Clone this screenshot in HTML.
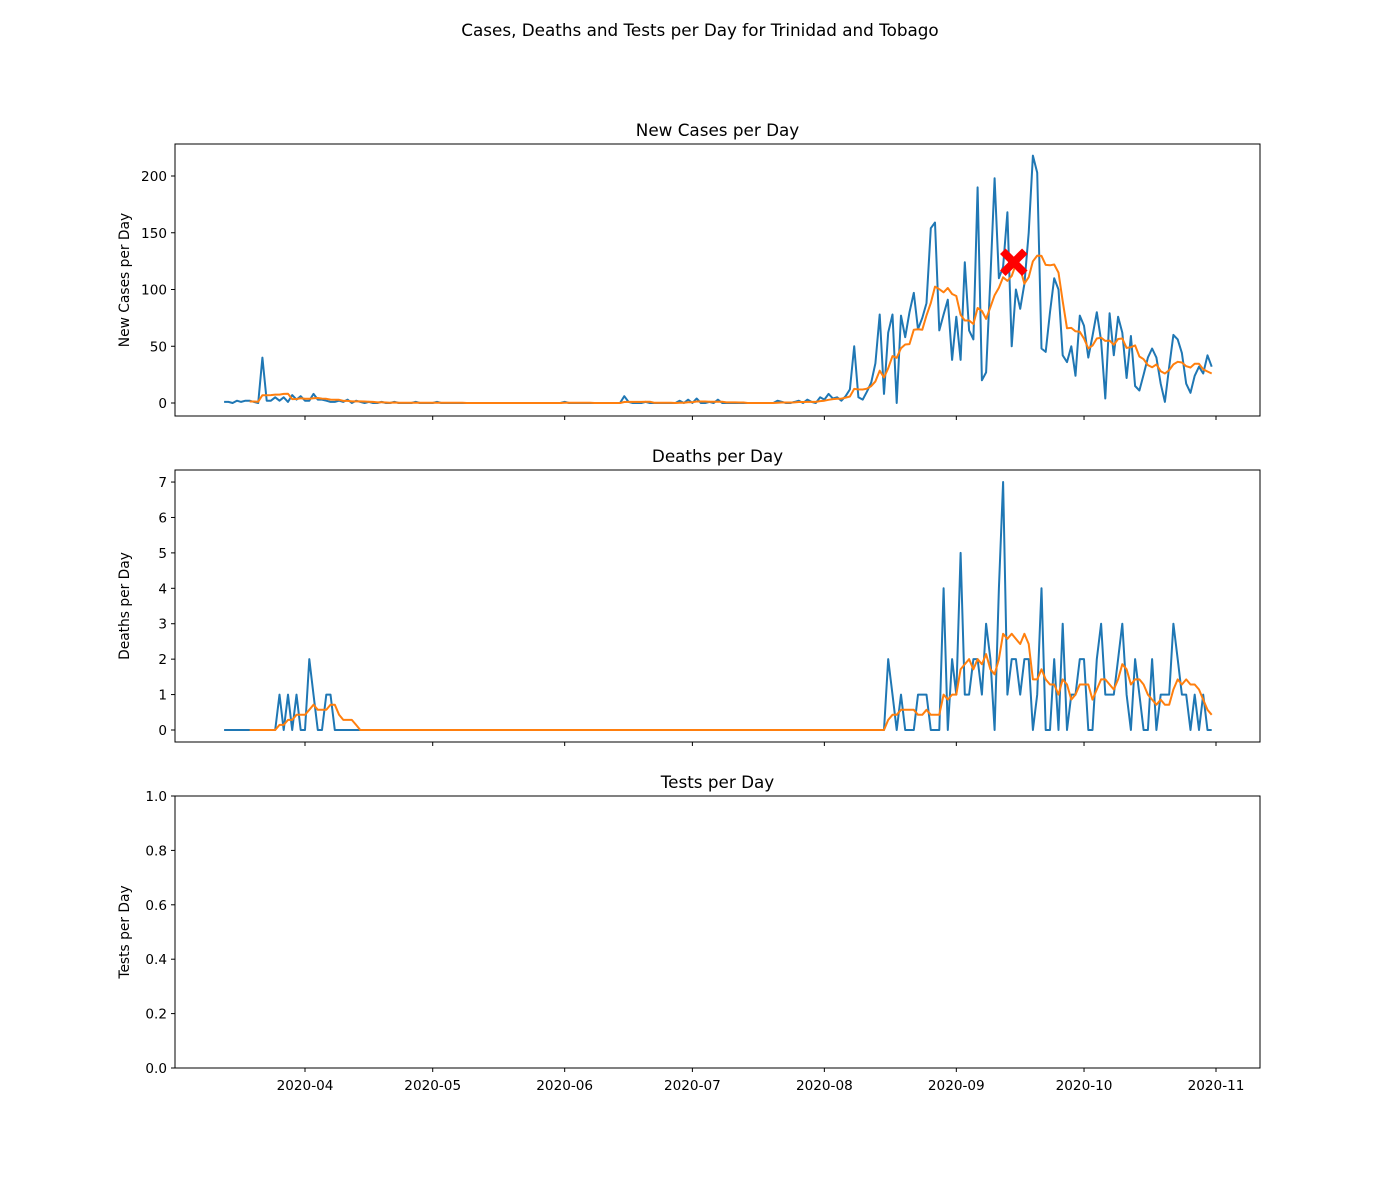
<!DOCTYPE html>
<html><head><meta charset="utf-8"><style>
html,body{margin:0;padding:0;background:#fff;}
svg{display:block;font-family:"DejaVu Sans","Liberation Sans",sans-serif;}
</style></head><body>
<svg id="fig" width="1400" height="1200" viewBox="0 0 1400 1200">
<rect width="1400" height="1200" fill="#fff"/>
<text x="700" y="36" text-anchor="middle" font-size="16.8">Cases, Deaths and Tests per Day for Trinidad and Tobago</text>
</svg>
<script>
// day 0 = 2020-03-13
const startOffsetToApril = 19;
const xTickLabels = ["2020-04","2020-05","2020-06","2020-07","2020-08","2020-09","2020-10","2020-11"];
const xTickDays = [19,49,80,110,141,172,202,233];
const cases = [
1,1,0,2,1,2,2,1,0,40,
2,2,5,2,5,1,7,3,6,2,2,8,3,3,2,1,1,2,1,3,0,
2,1,0,1,0,0,1,0,0,1,0,0,0,0,1,0,0,0,0,1,0,0,0,0,0,0,0,0,0,0,
0,0,0,0,0,0,0,0,0,0,0,0,0,0,0,0,0,0,0,1,0,0,0,0,0,0,0,0,0,0,0,0,0,
6,
1,0,0,0,1,0,0,0,0,0,0,0,2,0,3,0,4,0,0,1,0,3,0,0,0,0,0,0,0,0,
0,0,0,0,0,2,1,0,0,1,2,0,3,1,0,5,
3,8,4,5,2,6,12,50,5,3,10,18,35,78,8,62,78,0,77,58,80,
97,65,75,88,154,159,64,78,91,38,76,38,124,64,56,190,20,27,110,198,
110,120,168,50,100,83,105,150,218,203,48,45,80,110,100,42,36,50,24,77,
68,40,59,80,55,4,79,42,76,62,22,59,15,11,25,40,48,40,17,1,
32,60,56,44,17,9,24,32,26,42,32];
const deaths = [
0,0,0,0,0,0,0,0,0,0,0,0,0,
1,0,1,0,1,0,0,2,1,0,0,1,1,
0,0,0,0,0,0,0,0,0,0,0,0,0,0,0,0,0,0,0,0,0,0,0,0,0,0,0,0,0,0,
0,0,0,0,0,0,0,0,0,0,0,0,0,0,0,0,0,0,0,0,0,0,0,0,0,0,0,0,0,0,
0,0,0,0,0,0,0,0,0,0,0,0,0,0,0,0,0,0,0,0,0,0,0,0,0,0,0,0,0,0,
0,0,0,0,0,0,0,0,0,0,0,0,0,0,0,0,0,0,0,0,0,0,0,0,0,0,0,0,0,0,
0,0,0,0,0,0,0,0,0,0,
2,1,0,1,0,0,0,1,1,1,0,0,0,4,0,2,1,5,1,1,2,2,1,3,2,0,4,7,1,2,2,1,2,2,0,1,4,0,0,2,
0,3,0,1,1,2,2,0,0,2,3,1,1,1,2,3,1,0,2,1,0,0,2,0,1,1,1,3,2,1,1,0,1,0,1,0,0];
const markerDay = [185.5];
const markerValue = [124];
const casesTicks = [0,50,100,150,200];
const deathsTicks = [0,1,2,3,4,5,6,7];
const testsTicks = [0,0.2,0.4,0.6,0.8,1.0];
const testsTickLabels = ["0.0","0.2","0.4","0.6","0.8","1.0"];

const NS = "http://www.w3.org/2000/svg";
const svg = document.getElementById('fig');
const L = 175, R = 1260;
const xDay = d => 305 + (d - startOffsetToApril) * (1216 - 305) / 214;
function el(tag, attrs, parent) {
  const e = document.createElementNS(NS, tag);
  for (const k in attrs) e.setAttribute(k, attrs[k]);
  (parent || svg).appendChild(e);
  return e;
}
function rolling(a) {
  const out = [];
  for (let i = 6; i < a.length; i++) {
    let s = 0; for (let j = i - 6; j <= i; j++) s += a[j];
    out.push([i, s / 7]);
  }
  return out;
}
function panel(top, bottom, ymin, ymax, ticks, tickLabels, title, ylabel, showXLabels, name) {
  const g = el('g', {});
  
  
  const yv = v => bottom - (v - ymin) / (ymax - ymin) * (bottom - top);
  const t = el('text', {x: (L + R) / 2, y: top - 8, 'text-anchor': 'middle', 'font-size': 16.8}, g);
  t.textContent = title;
  
  
  ticks.forEach((v, i) => {
    const y = yv(v);
    el('line', {x1: L - 4, x2: L, y1: y, y2: y, stroke: '#000', 'stroke-width': 1}, g);
    const tl = el('text', {x: L - 8, y: y + 5, 'text-anchor': 'end', 'font-size': 13.6}, g);
    tl.textContent = tickLabels ? tickLabels[i] : String(v);
    
    
  });
  xTickDays.forEach((d, i) => {
    const x = xDay(d);
    el('line', {x1: x, x2: x, y1: bottom, y2: bottom + 4, stroke: '#000', 'stroke-width': 1}, g);
    if (showXLabels) {
      const tl = el('text', {x: x, y: bottom + 22, 'text-anchor': 'middle', 'font-size': 13.6}, g);
      tl.textContent = xTickLabels[i];
      
      
    }
  });
  const yl = el('text', {x: 0, y: 0, 'text-anchor': 'middle', 'font-size': 13.8,
    transform: `translate(${L - 46},${(top + bottom) / 2}) rotate(-90)`}, g);
  yl.textContent = ylabel;
  
  
  return {g, yv, top, bottom};
}
function series(p, arr, name) {
  const clip = p.g;
  const pts = arr.map((v, i) => xDay(i).toFixed(1) + ',' + p.yv(v).toFixed(1)).join(' ');
  const l1 = el('polyline', {points: pts, fill: 'none', stroke: '#1f77b4', 'stroke-width': 2, 'stroke-linejoin': 'round'}, clip);
  
  
  const ra = rolling(arr).map(([i, v]) => xDay(i).toFixed(1) + ',' + p.yv(v).toFixed(1)).join(' ');
  const l2 = el('polyline', {points: ra, fill: 'none', stroke: '#ff7f0e', 'stroke-width': 2, 'stroke-linejoin': 'round'}, clip);
  
  
}
function frame(p, name) {
  const r = el('rect', {x: L, y: p.top, width: R - L, height: p.bottom - p.top, fill: 'none', stroke: '#000', 'stroke-width': 1}, p.g);
  
  
}
const p1 = panel(144, 416, -11.45, 228.2, casesTicks, null, 'New Cases per Day', 'New Cases per Day', false, 'cases');
series(p1, cases, 'cases');
markerDay.forEach((d, i) => {
  const cx = xDay(d), cy = p1.yv(markerValue[i]), s = 11, w = 5.5;
  const m = el('path', {d: `M${cx-s-w/2},${cy-s+w/2} L${cx-s+w/2},${cy-s-w/2} L${cx},${cy-w} L${cx+s-w/2},${cy-s-w/2} L${cx+s+w/2},${cy-s+w/2} L${cx+w},${cy} L${cx+s+w/2},${cy+s-w/2} L${cx+s-w/2},${cy+s+w/2} L${cx},${cy+w} L${cx-s+w/2},${cy+s+w/2} L${cx-s-w/2},${cy+s-w/2} L${cx-w},${cy} Z`, fill: '#ff0000'}, p1.g);
  
  
});
frame(p1, 'cases');
const p2 = panel(470, 742, -0.339, 7.34, deathsTicks, null, 'Deaths per Day', 'Deaths per Day', false, 'deaths');
series(p2, deaths, 'deaths');
frame(p2, 'deaths');
const p3 = panel(796, 1068, 0, 1, testsTicks, testsTickLabels, 'Tests per Day', 'Tests per Day', true, 'tests');
frame(p3, 'tests');
</script>
</body></html>
